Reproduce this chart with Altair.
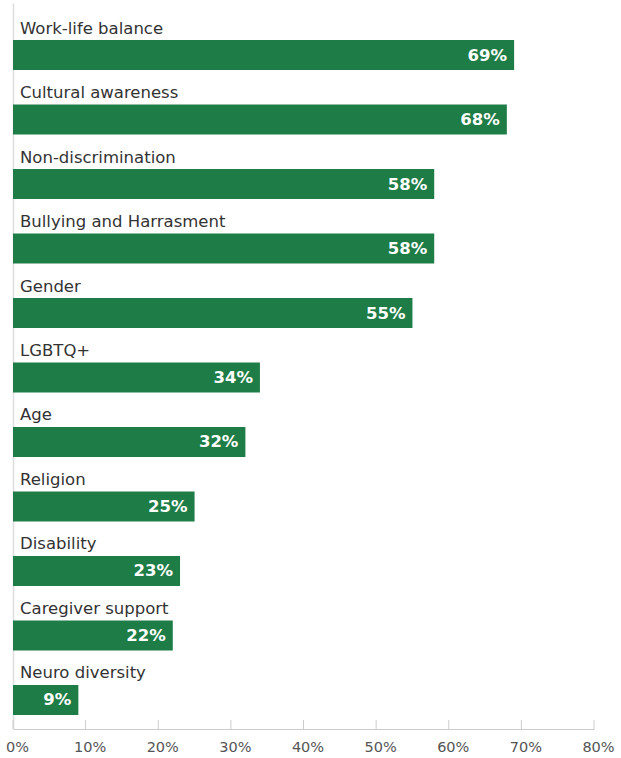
import altair as alt
import pandas as pd

categories = ["Work-life balance", "Cultural awareness", "Non-discrimination",
              "Bullying and Harrasment", "Gender", "LGBTQ+", "Age", "Religion",
              "Disability", "Caregiver support", "Neuro diversity"]
values = [69, 68, 58, 58, 55, 34, 32, 25, 23, 22, 9]
tick_values = [0, 10, 20, 30, 40, 50, 60, 70, 80]

df = pd.DataFrame({"cat": categories, "value": values,
                   "label": [f"{v}%" for v in values]})
ticks_df = pd.DataFrame({"value": tick_values})

GREEN = "#1E7C46"
FONT = "DejaVu Sans"

y_enc = alt.Y("cat:N", sort=categories,
              scale=alt.Scale(paddingInner=0, paddingOuter=0.128),
              axis=alt.Axis(labels=False, ticks=False, title=None,
                            domainColor="#dddddd", domainWidth=1.5))
x_scale = alt.Scale(domain=[0, 80], nice=False)
x_axis = alt.Axis(values=tick_values, format=".0f", labelExpr="datum.value + '%'",
                  ticks=False, grid=False, title=None, domainColor="#cccccc",
                  labelFontSize=14.5, labelColor="#555555", labelFont=FONT,
                  labelPadding=11, labelFlush=False, labelOffset=4)

base = alt.Chart(df)
bars = base.mark_bar(color=GREEN, size=30, yOffset=11.5).encode(
    x=alt.X("value:Q", scale=x_scale, axis=x_axis),
    y=y_enc,
)
cat_text = base.mark_text(align="left", baseline="middle", dx=7, yOffset=-15,
                          fontSize=16.5, font=FONT, color="#333333").encode(
    x=alt.value(0), y=y_enc, text="cat:N")
val_text = base.mark_text(align="right", baseline="middle", dx=-7, yOffset=12,
                          fontSize=16.5, font=FONT, fontWeight="bold",
                          color="white").encode(
    x=alt.X("value:Q", scale=x_scale), y=y_enc, text="label:N")
tick_rules = alt.Chart(ticks_df).mark_rule(color="#cccccc", strokeWidth=1).encode(
    x=alt.X("value:Q", scale=x_scale), y=alt.value(717), y2=alt.value(726))

chart = alt.layer(bars, tick_rules, cat_text, val_text).properties(
    width=581, height=726,
    autosize=alt.AutoSizeParams(type="none"),
    padding={"left": 13, "top": 3, "right": 27, "bottom": 29},
).configure_view(stroke=None)

chart.save("out.html", embed_options={"renderer": "svg", "actions": False})
